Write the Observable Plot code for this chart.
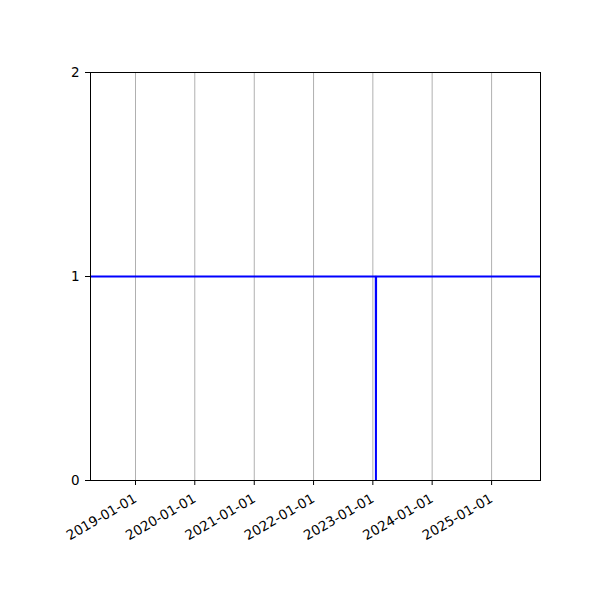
<!DOCTYPE html>
<html>
<head>
<meta charset="utf-8">
<script src="https://cdn.jsdelivr.net/npm/d3@7"></script>
<script src="https://cdn.jsdelivr.net/npm/@observablehq/plot@0.6"></script>
<style>
  body { margin: 0; background: white; }
</style>
</head>
<body>
<div id="chart"></div>
<script>
const dates = ["2018-03-30", "2023-01-19", "2023-01-20", "2023-01-21", "2025-10-29"];
const values = [1, 1, 0, 1, 1];
const xTickLabels = ["2019-01-01", "2020-01-01", "2021-01-01", "2022-01-01", "2023-01-01", "2024-01-01", "2025-01-01"];
const yTicks = [0, 1, 2];

const data = dates.map((d, i) => ({date: new Date(d + "T00:00:00Z"), value: values[i]}));
const xTicks = xTickLabels.map(d => new Date(d + "T00:00:00Z"));

const chart = Plot.plot({
  width: 600,
  height: 600,
  marginLeft: 90,
  marginRight: 60,
  marginTop: 72,
  marginBottom: 120,
  style: {fontFamily: "DejaVu Sans", fontSize: "13.5px", background: "white", color: "black"},
  x: {type: "utc", domain: [new Date("2018-03-30T00:00:00Z"), new Date("2025-10-29T00:00:00Z")]},
  y: {domain: [0, 2]},
  marks: [
    Plot.gridX(xTicks, {stroke: "#b0b0b0", strokeOpacity: 1, strokeWidth: 1}),
    Plot.line(data, {x: "date", y: "value", stroke: "#0000ff", strokeWidth: 2, clip: true}),
    Plot.frame({stroke: "black", strokeWidth: 1}),
    Plot.axisY({ticks: yTicks, tickSize: 5, tickPadding: 6, tickFormat: d => String(d), label: null}),
    Plot.axisX({ticks: xTicks, tickSize: 5, tickPadding: 12, tickRotate: -30, tickFormat: d3.utcFormat("%Y-%m-%d"), label: null})
  ]
});
document.getElementById("chart").appendChild(chart);
</script>
</body>
</html>
